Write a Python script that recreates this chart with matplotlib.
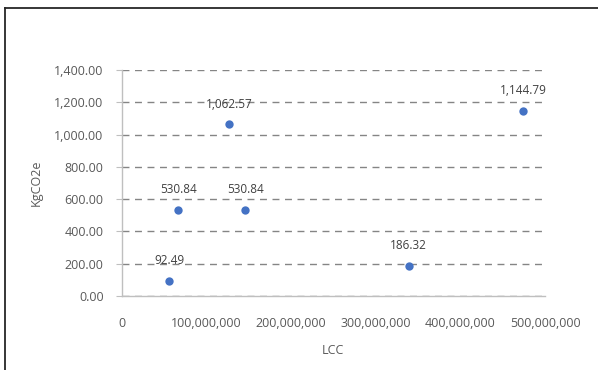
import matplotlib.pyplot as plt
from matplotlib.lines import Line2D
from matplotlib.ticker import FuncFormatter

lcc = [56000000, 66700000, 127000000, 146000000, 339000000, 474000000]
co2 = [92.49, 530.84, 1062.57, 530.84, 186.32, 1144.79]
x_ticks = [0, 100000000, 200000000, 300000000, 400000000, 500000000]
y_ticks = [0, 200, 400, 600, 800, 1000, 1200, 1400]

plt.rcParams["font.family"] = ["Open Sans", "DejaVu Sans"]
text_color = "#595959"

fig = plt.figure(figsize=(5.98, 3.70), dpi=100)
ax = fig.add_axes([0.2035, 0.2, 0.708, 0.611])

ax.scatter(lcc, co2, s=36, color="#4472C4", zorder=3, linewidths=0)
for x, y in zip(lcc, co2):
    ax.annotate("{:,.2f}".format(y), (x, y), xytext=(0, 10),
                textcoords="offset points", ha="center", va="bottom",
                fontsize=8.5, color="#404040")

ax.set_xlim(0, 500000000)
ax.set_ylim(0, 1400)
ax.set_xticks(x_ticks)
ax.set_yticks(y_ticks)
ax.xaxis.set_major_formatter(FuncFormatter(lambda v, p: "{:,.0f}".format(v)))
ax.yaxis.set_major_formatter(FuncFormatter(lambda v, p: "{:,.2f}".format(v)))

ax.grid(axis="y", color="#858585", linestyle=(0, (5, 4)), linewidth=1.0)
ax.set_axisbelow(True)

for side in ["top", "right"]:
    ax.spines[side].set_visible(False)
for side in ["left", "bottom"]:
    ax.spines[side].set_color("#bfbfbf")
    ax.spines[side].set_linewidth(1.0)

ax.tick_params(axis="y", colors="#bfbfbf", labelcolor=text_color,
               length=4, pad=9, labelsize=9)
ax.tick_params(axis="x", length=0, pad=15, labelcolor=text_color, labelsize=9)

ax.set_xlabel("LCC", color=text_color, fontsize=9, labelpad=10)
ax.set_ylabel("KgCO2e", color=text_color, fontsize=9, labelpad=8)

# chart frame edges
fig.add_artist(Line2D([0.008, 0.008], [0, 0.979], color="#262626", linewidth=1.3,
                      transform=fig.transFigure))
fig.add_artist(Line2D([0.008, 1.0], [0.979, 0.979], color="#262626", linewidth=1.3,
                      transform=fig.transFigure))

fig.savefig("out.png", dpi=100)
